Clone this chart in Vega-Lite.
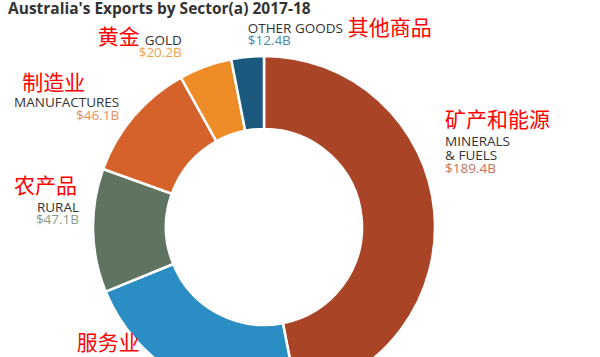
{
  "$schema": "https://vega.github.io/schema/vega-lite/v6.json",
  "autosize": "none",
  "width": 528,
  "height": 260,
  "padding": {"left": 0, "top": 97, "right": 72, "bottom": 0},
  "background": "white",
  "title": {
    "text": "Australia's Exports by Sector(a) 2017-18",
    "anchor": "start",
    "frame": "group",
    "baseline": "alphabetic",
    "offset": 3,
    "dy": 15,
    "dx": 8,
    "font": "Open Sans",
    "fontSize": 15.5,
    "fontWeight": "bold",
    "color": "#333333"
  },
  "data": {
    "values": [
      {"id": "min", "sector": "Minerals & fuels", "value": 189.4, "order": 1, "name": ["MINERALS", "& FUELS"], "amount": "$189.4B", "cn": "矿产和能源"},
      {"id": "ser", "sector": "Services", "value": 88.5, "order": 2, "name": "SERVICES", "amount": "$88.5B", "cn": "服务业"},
      {"id": "rur", "sector": "Rural", "value": 47.1, "order": 3, "name": "RURAL", "amount": "$47.1B", "cn": "农产品"},
      {"id": "man", "sector": "Manufactures", "value": 46.1, "order": 4, "name": "MANUFACTURES", "amount": "$46.1B", "cn": "制造业"},
      {"id": "gol", "sector": "Gold", "value": 20.2, "order": 5, "name": "GOLD", "amount": "$20.2B", "cn": "黄金"},
      {"id": "oth", "sector": "Other goods", "value": 12.4, "order": 6, "name": "OTHER GOODS", "amount": "$12.4B", "cn": "其他商品"}
    ]
  },
  "encoding": {
    "theta": {"field": "value", "type": "quantitative", "stack": true},
    "order": {"field": "order", "type": "quantitative"}
  },
  "layer": [
    {
      "mark": {"type": "arc", "outerRadius": 171, "innerRadius": 98, "stroke": "white", "strokeWidth": 2.5},
      "encoding": {
        "color": {
          "field": "sector", "type": "nominal", "legend": null,
          "scale": {
            "domain": ["Minerals & fuels", "Services", "Rural", "Manufactures", "Gold", "Other goods"],
            "range": ["#A94427", "#2A8DC4", "#5E7360", "#D5622A", "#EE8C27", "#1B5A7E"]
          }
        }
      }
    },
    {
      "mark": {
        "type": "text", "radius": 190, "font": "Open Sans", "fontSize": 13.5, "color": "#333333",
        "baseline": "alphabetic", "lineHeight": 14,
        "align": {"expr": "indexof(['min','ser','oth'], datum.id) >= 0 ? 'left' : 'right'"},
        "dx": {"expr": "{min: -8, ser: -71, rur: 5, man: 0, gol: -17, oth: 2}[datum.id]"},
        "dy": {"expr": "{min: -63, ser: -28, rur: -19, man: 3, gol: -3.5, oth: -5}[datum.id]"}
      },
      "encoding": {"text": {"field": "name"}}
    },
    {
      "mark": {
        "type": "text", "radius": 190, "font": "Open Sans", "fontSize": 13.5,
        "baseline": "alphabetic",
        "align": {"expr": "indexof(['min','ser','oth'], datum.id) >= 0 ? 'left' : 'right'"},
        "dx": {"expr": "{min: -8, ser: -71, rur: 5, man: 0, gol: -17, oth: 2}[datum.id]"},
        "dy": {"expr": "{min: -36, ser: -14, rur: -7, man: 16, gol: 8.5, oth: 7}[datum.id]"}
      },
      "encoding": {
        "text": {"field": "amount"},
        "fill": {
          "field": "sector", "type": "nominal", "legend": null,
          "scale": {
            "domain": ["Minerals & fuels", "Services", "Rural", "Manufactures", "Gold", "Other goods"],
            "range": ["#C2735C", "#6AAEDB", "#8A9B8C", "#E98E62", "#F0A14E", "#4D88AD"]
          }
        }
      }
    },
    {
      "mark": {
        "type": "text", "radius": 190, "font": "Noto Sans CJK SC", "fontSize": 21, "color": "#FF0000",
        "baseline": "alphabetic",
        "align": {"expr": "indexof(['rur','gol'], datum.id) >= 0 ? 'right' : 'left'"},
        "dx": {"expr": "{min: -8, ser: -97, rur: 3, man: -97, gol: -59, oth: 102}[datum.id]"},
        "dy": {"expr": "{min: -82, ser: -44, rur: -38, man: -14, gol: -4.5, oth: -3}[datum.id]"}
      },
      "encoding": {"text": {"field": "cn"}}
    }
  ]
}
